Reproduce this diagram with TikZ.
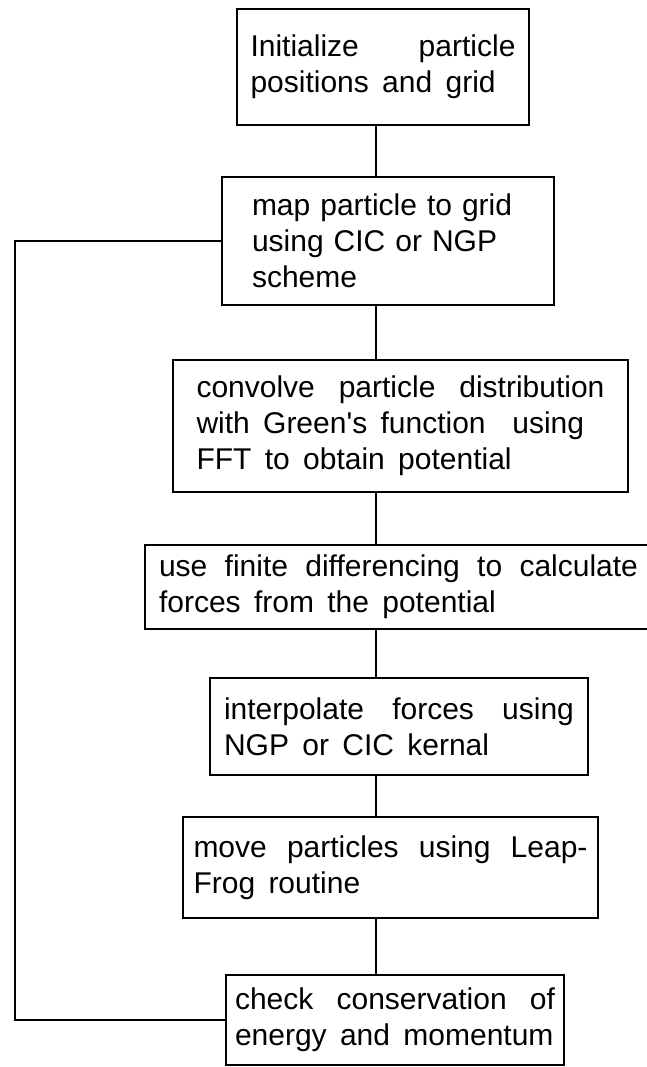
\documentclass[tikz,border=0pt]{standalone}
\usepackage{fontspec}
\newfontfamily\boxfont{Liberation Sans}[WordSpace=1.6,Ligatures=TeXOff]
\tikzset{
stepbox/.style={draw, line width=2.6pt, inner sep=0pt, align=justify, font=\boxfont\fontsize{30}{36}\selectfont},
flowline/.style={line width=2.4pt}
}

\begin{document}
\begin{tikzpicture}[x=1pt, y=-1pt]
\path[fill=white, use as bounding box] (0,0) rectangle (646,1067);

\node[stepbox, text width=265pt, minimum width=292pt, minimum height=116pt] (init) at (383,67) {Initialize particle\linebreak positions and grid};
\node[stepbox, align=left, text width=272pt, minimum width=332pt, minimum height=128pt] (map) at (388,241) {map particle to grid\\ using CIC or NGP\\ scheme};
\node[stepbox, text width=408pt, minimum width=455pt, minimum height=132pt] (conv) at (400.5,426) {convolve particle distribution\linebreak with Green's function\ \ using\newline FFT to obtain potential};
\node[stepbox, text width=479pt, minimum width=507pt, minimum height=84pt] (fdiff) at (398.5,587) {use finite differencing to calculate\linebreak forces from the potential};
\node[stepbox, text width=350pt, minimum width=378pt, minimum height=97pt] (interp) at (399,726.5) {interpolate forces using\linebreak NGP or CIC kernal};
\node[stepbox, text width=394pt, minimum width=415pt, minimum height=101pt] (move) at (390.5,867.5) {move particles using Leap-\linebreak Frog routine};
\node[stepbox, text width=320pt, minimum width=338pt, minimum height=90pt] (check) at (395,1020) {check conservation of\linebreak energy and momentum};

\coordinate (spine) at (376,0);
\coordinate (loop) at (15,0);
\foreach \a/\b in {init/map, map/conv, conv/fdiff, fdiff/interp, interp/move, move/check}
  \draw[flowline] (\a.south -| spine) -- (\b.north -| spine);
\draw[flowline] (check.west) -- (check.west -| loop) -- (map.west -| loop) -- (map.west);
\end{tikzpicture}
\end{document}
